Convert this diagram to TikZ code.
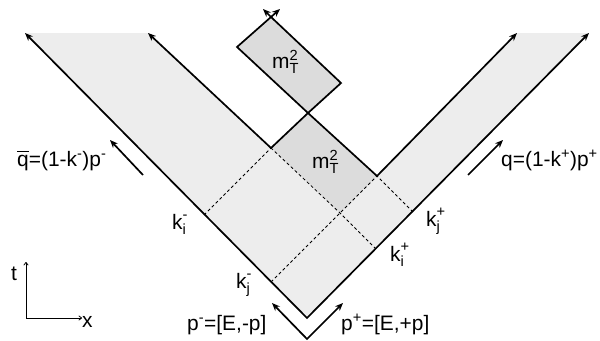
\documentclass[tikz,border=0pt]{standalone}
\usepackage{amsmath}
\usepackage{fontspec}
\setmainfont{Liberation Sans}
\usetikzlibrary{arrows.meta}
\definecolor{lightfill}{HTML}{EDEDED}
\definecolor{boxfill}{HTML}{DCDCDC}
\newcommand\supsubx[3]{$\text{#1}_{\text{#2}}^{\text{#3}}$}
\begin{document}
\begin{tikzpicture}[x=1bp,y=-1bp,
  heavy/.style={line width=1.7bp},
  dashline/.style={line width=0.8bp, dash pattern=on 3bp off 2.5bp},
  arr/.style={-{Stealth[length=8bp,width=6.5bp]}},
  darr/.style={{Stealth[length=8bp,width=6.5bp]}-{Stealth[length=8bp,width=6.5bp]}},
  axisarr/.style={line width=0.8bp,-{To[length=3.5bp,width=5bp]}},
  lbl/.style={font=\fontsize{21}{25}\selectfont, inner sep=0pt, anchor=base west}]
\useasboundingbox (0,0) rectangle (600,340);
% main cone
\coordinate (O) at (307,318);
\coordinate (OLtop) at (25,33);
\coordinate (ORtop) at (589,33);
\coordinate (ILtop) at (148,33);
\coordinate (IRtop) at (517,33);
% central box
\coordinate (CL) at (271,148);
\coordinate (CT) at (308,113);
\coordinate (CR) at (377,176);
\coordinate (CB) at (340,213);
% upper box
\coordinate (UL) at (237,47);
\coordinate (UT) at (271,17);
\coordinate (UR) at (341,83);
\coordinate (UTa) at (263,9);
\coordinate (UTb) at (280,9);
% dashed end points
\coordinate (KiM) at (204,215);
\coordinate (KjM) at (271,282);
\coordinate (KiP) at (376,249);
\coordinate (KjP) at (413,212);
% lower V
\coordinate (LV) at (307,339);
\coordinate (PMtip) at (272,303);
\coordinate (PPtip) at (343,303);
% side arrows
\coordinate (QBs) at (143,175);
\coordinate (QBt) at (110,140);
\coordinate (Qs) at (468,175);
\coordinate (Qt) at (503,140);
% axes
\coordinate (AO) at (26,318);
\coordinate (AT) at (26,262);
\coordinate (AX) at (82,318);

% fills
\fill[lightfill] (OLtop) -- (O) -- (ORtop) -- (IRtop) -- (CR) -- (CB) -- (CL) -- (ILtop) -- cycle;
\fill[boxfill] (CL) -- (CT) -- (CR) -- (CB) -- cycle;
\fill[boxfill] (UL) -- (UT) -- (UR) -- (CT) -- cycle;

% dashed lines
\draw[dashline] (KiP) -- (CB) -- (CL);
\draw[dashline] (KjM) -- (CB) -- (CR);
\draw[dashline] (KiM) -- (CL);
\draw[dashline] (KjP) -- (CR);

% solid lines
\draw[heavy,darr] (OLtop) -- (O) -- (ORtop);
\draw[heavy,arr] (CL) -- (ILtop);
\draw[heavy,arr] (CR) -- (IRtop);
\draw[heavy] (CL) -- (CT) -- (UR) -- (UT) -- (UL) -- (CT) -- (CR);
\draw[heavy,arr] (UT) -- (UTa);
\draw[heavy,arr] (UT) -- (UTb);
\draw[heavy,darr] (PMtip) -- (LV) -- (PPtip);
\draw[heavy,arr] (QBs) -- (QBt);
\draw[heavy,arr] (Qs) -- (Qt);

% axes
\draw[axisarr] (AO) -- (AT);
\draw[axisarr] (AO) -- (AX);

% labels
\node[lbl] (lmu) at (272,68) {\supsubx{m}{T}{2}};
\node[lbl] (lmc) at (312,168) {\supsubx{m}{T}{2}};
\node[lbl] (lqb) at (17,166) {$\overline{\text{q}}$=(1-k\textsuperscript{-})p\textsuperscript{-}};
\node[lbl] (lq) at (501,166) {q=(1-k\textsuperscript{+})p\textsuperscript{+}};
\node[lbl] (lkim) at (172,229) {\supsubx{k}{i}{-}};
\node[lbl] (lkjm) at (236,288) {\supsubx{k}{j}{-}};
\node[lbl] (lkjp) at (426,226) {\supsubx{k}{j}{+}};
\node[lbl] (lkip) at (390,261) {\supsubx{k}{i}{+}};
\node[lbl] (lpm) at (187,330) {p\textsuperscript{-}=[E,-p]};
\node[lbl] (lpp) at (341,330) {p\textsuperscript{+}=[E,+p]};
\node[lbl] (lt) at (11,280) {t};
\node[lbl] (lx) at (82,327) {x};
\end{tikzpicture}
\end{document}
